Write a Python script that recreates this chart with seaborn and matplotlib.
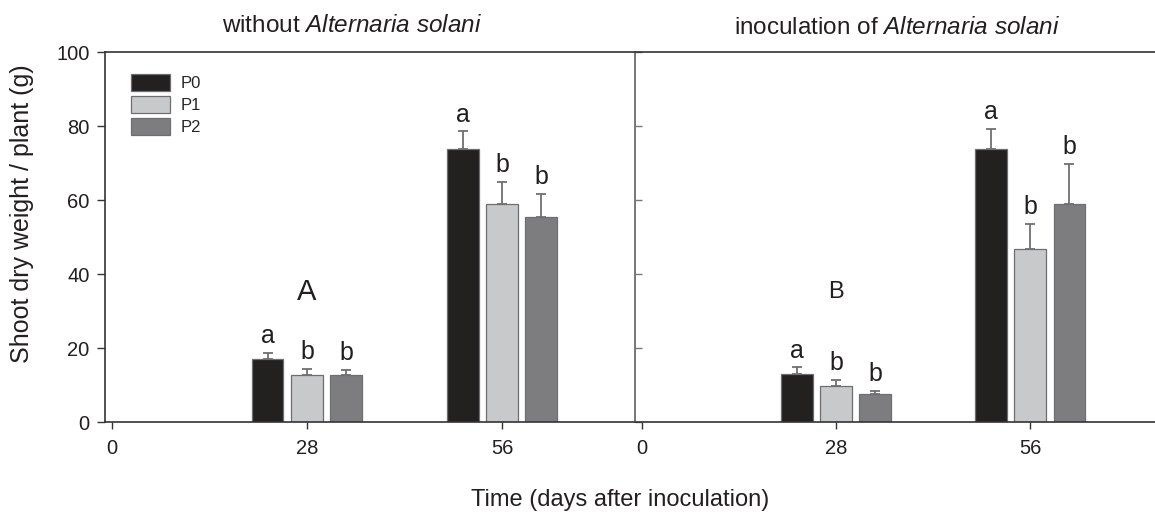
import numpy as np
import pandas as pd
import matplotlib
matplotlib.use("Agg")
import matplotlib.pyplot as plt
import seaborn as sns

# ---- data ----
days = [28, 56]
treatments = ["P0", "P1", "P2"]
# without Alternaria solani
wo_P0 = [16.9, 73.8]
wo_P1 = [12.6, 58.8]
wo_P2 = [12.6, 55.4]
wo_err_P0 = [1.8, 4.8]
wo_err_P1 = [1.7, 6.1]
wo_err_P2 = [1.5, 6.3]
wo_letters_P0 = ["a", "a"]
wo_letters_P1 = ["b", "b"]
wo_letters_P2 = ["b", "b"]
# inoculation of Alternaria solani
in_P0 = [13.1, 73.9]
in_P1 = [9.7, 46.8]
in_P2 = [7.6, 58.9]
in_err_P0 = [1.7, 5.3]
in_err_P1 = [1.7, 6.8]
in_err_P2 = [0.9, 10.8]
in_letters_P0 = ["a", "a"]
in_letters_P1 = ["b", "b"]
in_letters_P2 = ["b", "b"]
panel_letters = ["A", "B"]
xticks = [0, 28, 56]
yticks = [0, 20, 40, 60, 80, 100]

colors = {"P0": "#231f20", "P1": "#c8c9cb", "P2": "#7c7d81"}

sns.set_theme(style="white")
plt.rcParams["font.family"] = ["Liberation Sans", "DejaVu Sans"]
plt.rcParams["mathtext.fontset"] = "custom"
plt.rcParams["mathtext.rm"] = "Liberation Sans"
plt.rcParams["mathtext.it"] = "Liberation Sans:italic"


def make_df(vals, errs, letters):
    rows = []
    for t in treatments:
        for i, d in enumerate(days):
            rows.append(dict(day=d, trt=t, val=vals[t][i], err=errs[t][i], let=letters[t][i]))
    return pd.DataFrame(rows)


df_wo = make_df({"P0": wo_P0, "P1": wo_P1, "P2": wo_P2},
                {"P0": wo_err_P0, "P1": wo_err_P1, "P2": wo_err_P2},
                {"P0": wo_letters_P0, "P1": wo_letters_P1, "P2": wo_letters_P2})
df_in = make_df({"P0": in_P0, "P1": in_P1, "P2": in_P2},
                {"P0": in_err_P0, "P1": in_err_P1, "P2": in_err_P2},
                {"P0": in_letters_P0, "P1": in_letters_P1, "P2": in_letters_P2})

W, H = 1155, 516
fig = plt.figure(figsize=(W / 100, H / 100), dpi=100)
bottom = 1 - 422 / H
height = (422 - 52) / H
ax1 = fig.add_axes([105 / W, bottom, (635 - 105) / W, height])
ax2 = fig.add_axes([635 / W, bottom, (1155 - 635) / W, height])

dark = "#231f20"
grey = "#707070"

for k, (ax, df) in enumerate([(ax1, df_wo), (ax2, df_in)]):
    sns.barplot(data=df, x="day", y="val", hue="trt", hue_order=treatments,
                palette=colors, native_scale=True, width=0.607, gap=0.19,
                errorbar=None, edgecolor="#6d6e71", linewidth=0.9,
                legend=(k == 0), ax=ax)
    for cont, t in zip(ax.containers, treatments):
        sub = df[df.trt == t].sort_values("day")
        for bar, (_, r) in zip(cont.patches, sub.iterrows()):
            xc = bar.get_x() + bar.get_width() / 2
            top = bar.get_height()
            ax.errorbar([xc], [top], yerr=[[0], [r.err]], fmt="none",
                        ecolor=grey, elinewidth=1.3, capsize=3.6, capthick=1.3,
                        zorder=1)
            ax.text(xc, top + r.err + 2.6, r.let, ha="center", va="baseline",
                    fontsize=18, color=dark)
    ax.text(28, 35, panel_letters[k], ha="center", va="center",
            fontsize=21 if k == 0 else 17, color=dark)
    ax.set_ylim(0, 100)
    ax.set_xticks(xticks)
    ax.set_xticklabels([str(x) for x in xticks], fontsize=14.5, color=dark)
    ax.set_yticks(yticks)
    ax.set_xlabel("")
    ax.set_ylabel("")
    for s in ["top", "bottom"]:
        ax.spines[s].set_color("#333333")
        ax.spines[s].set_linewidth(1.2)
    ax.spines["right"].set_visible(False)
    ax.tick_params(axis="x", direction="out", length=5, width=1,
                   color="#333333", bottom=True, pad=7)

ax1.set_xlim(-1, 75.1)
ax2.set_xlim(-1, 74)

ax1.spines["left"].set_color("#333333")
ax1.spines["left"].set_linewidth(1.2)
ax1.set_yticklabels([str(y) for y in yticks], fontsize=14.5, color=dark)
ax1.tick_params(axis="y", direction="out", length=6, width=1,
                color="#333333", left=True, pad=5)

ax2.spines["left"].set_color("#777777")
ax2.spines["left"].set_linewidth(1.4)
ax2.set_yticklabels([])
ax2.tick_params(axis="y", direction="in", length=5, width=1,
                color="#777777", left=True)

leg = ax1.legend(loc="upper left", bbox_to_anchor=(0.049, 0.94),
                 frameon=False, fontsize=12, handlelength=2.35,
                 handleheight=1.15, labelspacing=0.3, handletextpad=0.6,
                 borderaxespad=0, borderpad=0)
for h in leg.legend_handles:
    h.set_edgecolor("#6d6e71")

ax1.text(352 / W, 1 - 26 / H, r"without $\it{Alternaria\ solani}$", transform=fig.transFigure,
         ha="center", va="center", fontsize=17.5, color=dark)
ax2.text(897 / W, 1 - 28 / H, r"inoculation of $\it{Alternaria\ solani}$", transform=fig.transFigure,
         ha="center", va="center", fontsize=17.5, color=dark)

fig.text(620 / W, 1 - 500 / H, "Time (days after inoculation)", ha="center",
         va="center", fontsize=17, color=dark)
fig.text(22 / W, 1 - 214 / H, "Shoot dry weight / plant (g)", ha="center",
         va="center", rotation=90, fontsize=18, color=dark)

fig.savefig("out.png", dpi=100)
